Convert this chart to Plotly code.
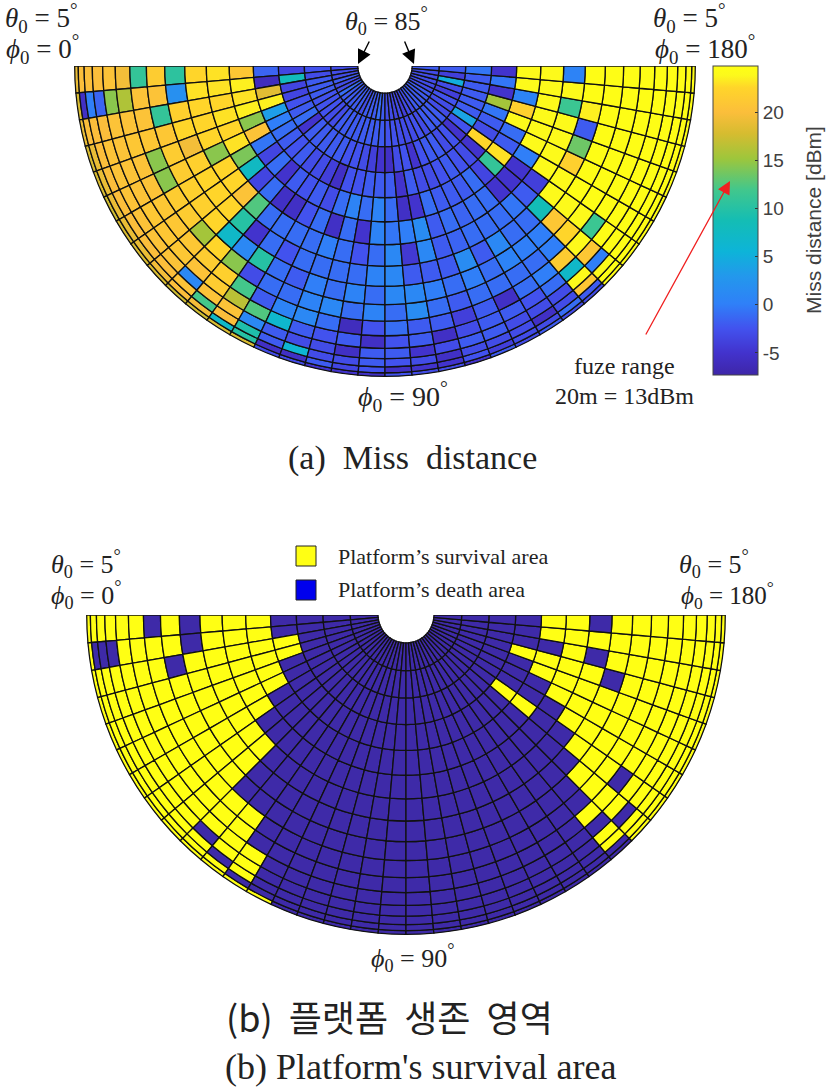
"""
Miss distance and platform survival maps drawn as half polar cell plots.
"""

import numpy as np
import plotly.graph_objects as go

WIDTH = 827
HEIGHT = 1087

theta0_edges = list(range(5, 90, 5))
phi_step = 5
fuze_range_dbm = 13

# one row per phi wedge, 16 cells from theta0 = 5 (rim) to theta0 = 85 (hole)
miss_left = [
    [19, 20, 20, 20, 20.5, 19.5, 11, 21.5, 10.5, 22.5, 23, 21, -1.5, -3.5, -2.5, -3],
    [18, -5.5, 0, -1.5, 14.5, 16, 20.5, 20.5, 2, 23, 23, 23.5, -6, 8, -3, -3],
    [19, 20, 20, 20, 20.5, 20.5, 20.5, 11, 22, 22.5, 22.5, 23, 18.5, -3.5, -2, -3],
    [18, 19, 20, 20.5, 20.5, 21, 21, 21, 22.5, 22.5, 23, 23.5, 23.5, -3.5, -2, -2],
    [18, 19, 20, 20.5, 20.5, 20.5, 14.5, 21.5, 19.5, 22.5, 22.5, 14.5, 3.5, -2.5, -2, -3],
    [17.5, 19, 20, 20.5, 20.5, 20.5, 14.5, 21.5, 22, 14.5, 23, 20.5, 0, -2, -2.5, -3],
    [18, 19, 20, 20.5, 21, 21, 21.5, 22, 22.5, 22.5, 14, -0.5, -1, -1, -2.5, -1],
    [18, 19, 20, 20.5, 21, 21, 21.5, 22, 22.5, 22.5, 7.5, -3.5, -2, -5, -2.5, -2],
    [18, 19.5, 20, 20.5, 21, 21, 15.5, 22.5, 22.5, 20.5, -3.5, -1, -2.5, -2, -3, -2],
    [17.5, 20, 20.5, 1, 20.5, 21.5, 22.5, 7, 10, 12.5, -1, -5, -2, -2, -3, -2],
    [17.5, 19.5, 12, 20.5, 21.5, 22, 14.5, 1, -5, -1, -5.5, -2, -3, -2, -2, -2],
    [18, 7, 20, 20.5, 16.5, 12, -3, 10, -1, -1, -5.5, -2.5, -3, -2, -2, -2],
    [18, 10, 9.5, 1, 12.5, -2, -1, -1, -2.5, -1, -2.5, -2, -4, -2, -2, -3],
    [-3, -5.5, -2, -2, 6.5, 0.5, -1, -2, -1, -1, -1, -3, -5.5, -2.5, -2, -2],
    [-3, -5.5, 6, -3, -2, 1, 0.5, 0, -1, 0, -5.5, -1, -2.5, -2.5, -2, -2],
    [-5, -2, -3, -3, -2.5, -1, 1, -1, -1, -1, -1, 0.5, -2.5, -3, -2, -2],
    [-5, -3.5, -3, -5.5, -2, -6, -1, 0.5, -1, -2.5, -5, -1, -2, -4, -2, -1],
    [-5.5, -2.5, -2, -2, -5.5, -2.5, 0.5, -1, 0.5, -1, 0.5, 0.5, -2, -5, -2, -2],
]

# same cells on the other side, listed from phi0 = 180 back to phi0 = 90
miss_right = [
    [24.5, 24.5, 24.5, 24.5, 24.5, 24.5, 24.5, 24.5, 24.5, 0.5, 24, 24, -5, -0.5, -2, -2],
    [24.5, 24.5, 24.5, 24.5, 24.5, 24.5, 24.5, 24.5, 24.5, 24, 24, 24, -0.5, -2, -4, -3],
    [24.5, 24.5, 24.5, 24.5, 24.5, 24.5, 24.5, 24.5, 23.5, 11.5, 24, 0.5, -5, -2, 5, -3],
    [24.5, 24.5, 24.5, 24.5, 24.5, 24.5, 24.5, 24.5, -2, 24, 24, 22, 15.5, -2, -3, -3],
    [24.5, 24.5, 24.5, 24.5, 24.5, 24.5, 24.5, 24.5, 13.5, 24, 24, 24, -0.5, -2, -4, -3],
    [24.5, 24.5, 24.5, 24.5, 24.5, 24.5, 24.5, 24.5, 22, 24, 24, -1, -2, -2, -2.5, -3],
    [24.5, 24.5, 24.5, 24.5, 24.5, 24.5, 24.5, 24.5, 24, 24, 0, -2, -3, 4, -3, -2],
    [24.5, 24.5, 24.5, 24.5, 24.5, 11.5, 24, 24, 24, -4, -5, 23, 22.5, -2.5, -3, -2],
    [24.5, 24.5, 24, 0, 21, 24, 22.5, 21, 8.5, -2, -5, 11, -5, -5, -2, -2],
    [-3, -2, 21, 24, 7, 21.5, 0, 0, -1, -0.5, -5, -3.5, -3, -2.5, -2, -2],
    [-3, -1, -3, -3, -1, 0, -1, 0, -1, -1, -1, -1, -2.5, -3, -2, -2],
    [-2, -3, -5.5, -3, -2.5, -1, -1, 0.5, 1, -1, -1, -2, -2, -2, -3, -3],
    [-3, -3, -3, -3, -2, -5.5, -1, -1, -2, -1, -1.5, -2, -2.5, -2, -2.5, -3],
    [-2, -4, -3, -2, -2, -2, -1, 0, 1.5, -1.5, -1, -2, -3, -2.5, -3, -4],
    [-5, -2.5, -3, -2, -3, -4, -2, -1, -2, -2, -2, -1, -3, -5, -3, -3],
    [-3, -5, -5.5, -3, -5.5, -2, -1, 0, -2, 1, 1.5, -5, -2, -2.5, -3, -3.5],
    [-3, -5, -3, -5, -2, -2, 1.5, 1, -2, -4.5, 0, -5.5, -5, -3, -2.5, -3],
    [-2.5, -5.5, -2.5, -2, -2.5, -1, -1, 1, 1, 1, -0.5, -1, -2, -5.5, -2.5, -3],
]

colorbar_ticks = [-5, 0, 5, 10, 15, 20]
colorbar_labels = ["-5", "0", "5", "10", "15", "20"]
color_min = -7.3
color_max = 24.8

miss_scale = [
    [0.0, "#3E26A8"],
    [0.07, "#4232CC"],
    [0.15, "#4252EE"],
    [0.23, "#2F80F8"],
    [0.32, "#2398EC"],
    [0.40, "#0DB4D8"],
    [0.50, "#14BDB4"],
    [0.60, "#42C78C"],
    [0.70, "#9DC63C"],
    [0.78, "#D5BC30"],
    [0.85, "#FBBE3B"],
    [0.93, "#FFD52A"],
    [0.97, "#FCF91C"],
    [1.0, "#FFFF14"],
]
survival_scale = [[0, "#3E2AA8"], [1, "#FFFF14"]]


def px_x(x):
    """Pixel column to paper fraction."""
    return x / WIDTH


def px_y(y):
    """Pixel row to paper fraction."""
    return 1 - y / HEIGHT


def build_cells():
    """Flattens the wedge rows into centre angle, ring base, ring height, value."""
    rows = miss_left + miss_right[::-1]
    edges = np.cos(np.radians(theta0_edges))
    angle, base, height, value = [], [], [], []
    for i, row in enumerate(rows):
        for j, cell in enumerate(row):
            angle.append(i * phi_step + phi_step / 2)
            base.append(edges[j + 1])
            height.append(edges[j] - edges[j + 1])
            value.append(cell)
    return angle, base, height, np.array(value)


def polar_layout(center_x, top, radius):
    """Half disc subplot placed by its pixel centre and radius."""
    return {
        "domain": {
            "x": [px_x(center_x - radius), px_x(center_x + radius)],
            "y": [px_y(top + radius), px_y(top)],
        },
        "sector": [180, 360],
        "bgcolor": "white",
        "radialaxis": {"visible": False, "range": [0, 1]},
        "angularaxis": {
            "visible": False,
            "rotation": 180,
            "direction": "counterclockwise",
        },
    }


def label(x, y, text, size, family="Liberation Serif", color="#222222", angle=0):
    """Free text placed by pixel centre."""
    return {
        "x": px_x(x),
        "y": px_y(y),
        "xref": "paper",
        "yref": "paper",
        "text": text,
        "showarrow": False,
        "xanchor": "center",
        "yanchor": "middle",
        "textangle": angle,
        "font": {"family": family, "size": size, "color": color},
    }


def arrow(x0, y0, x1, y1, color, width, head):
    """Arrow between two pixel positions."""
    return {
        "x": px_x(x1),
        "y": px_y(y1),
        "ax": x0 - x1,
        "ay": y0 - y1,
        "xref": "paper",
        "yref": "paper",
        "axref": "pixel",
        "ayref": "pixel",
        "text": "",
        "showarrow": True,
        "arrowhead": 2,
        "arrowsize": head,
        "arrowwidth": width,
        "arrowcolor": color,
    }


def legend_box(top, color):
    """Small legend square placed by its top pixel row."""
    return {
        "type": "rect",
        "xref": "paper",
        "yref": "paper",
        "x0": px_x(296),
        "x1": px_x(316),
        "y0": px_y(top + 20),
        "y1": px_y(top),
        "fillcolor": color,
        "line": {"color": "#222222", "width": 1},
    }


def main():
    """Builds both panels and writes the page."""
    angle, base, height, value = build_cells()

    miss_trace = go.Barpolar(
        theta=angle,
        r=height,
        base=base,
        width=phi_step,
        subplot="polar",
        marker={
            "color": value,
            "colorscale": miss_scale,
            "cmin": color_min,
            "cmax": color_max,
            "line": {"color": "#111111", "width": 1.3},
            "colorbar": {
                "x": px_x(713),
                "xanchor": "left",
                "xpad": 0,
                "y": px_y(375),
                "yanchor": "bottom",
                "ypad": 0,
                "len": 309,
                "lenmode": "pixels",
                "thickness": 45,
                "outlinecolor": "#444444",
                "outlinewidth": 1,
                "tickvals": colorbar_ticks,
                "ticktext": colorbar_labels,
                "ticks": "inside",
                "ticklen": 3,
                "tickcolor": "#333333",
                "tickfont": {
                    "family": "Liberation Sans",
                    "size": 19,
                    "color": "#404040",
                },
            },
        },
    )
    survival_trace = go.Barpolar(
        theta=angle,
        r=height,
        base=base,
        width=phi_step,
        subplot="polar2",
        marker={
            "color": (value > fuze_range_dbm).astype(int),
            "colorscale": survival_scale,
            "cmin": 0,
            "cmax": 1,
            "showscale": False,
            "line": {"color": "#111111", "width": 1.3},
        },
    )

    theta_5 = "<i>θ</i><sub>0</sub> = 5<sup>°</sup>"
    phi_0 = "<i>ϕ</i><sub>0</sub> = 0<sup>°</sup>"
    phi_180 = "<i>ϕ</i><sub>0</sub> = 180<sup>°</sup>"
    phi_90 = "<i>ϕ</i><sub>0</sub> = 90<sup>°</sup>"
    annotations = [
        label(41, 18, theta_5, 27),
        label(42, 49, phi_0, 27),
        label(386, 21, "<i>θ</i><sub>0</sub> = 85<sup>°</sup>", 26),
        label(689, 18, theta_5, 27),
        label(705, 49, phi_180, 27),
        label(403, 397, phi_90, 28),
        label(624, 366, "fuze range", 24),
        label(624, 396, "20m = 13dBm", 24),
        label(412, 458, "(a)  Miss  distance", 34),
        label(86, 564, theta_5, 26),
        label(86, 595, phi_0, 26),
        label(714, 564, theta_5, 26),
        label(727, 595, phi_180, 25),
        label(413, 958, phi_90, 26),
        label(443, 556, "Platform’s survival area", 22),
        label(431, 589, "Platform’s death area", 22),
        label(389, 1016, "(b)  플랫폼  생존  영역", 36, "Noto Sans CJK KR"),
        label(420, 1067, "(b) Platform's survival area", 36),
        label(814, 220, "Miss distance [dBm]", 21, "Liberation Sans", "#404040", -90),
        arrow(370, 40, 358, 64, "black", 1.4, 2),
        arrow(404, 40, 414, 64, "black", 1.4, 2),
        arrow(645, 336, 730, 181, "#f02020", 1.3, 2),
    ]
    shapes = [legend_box(546, "#FFFF14"), legend_box(580, "#0000EE")]

    fig = go.Figure(data=[miss_trace, survival_trace])
    fig.update_layout(
        width=WIDTH,
        height=HEIGHT,
        margin={"l": 0, "r": 0, "t": 0, "b": 0},
        paper_bgcolor="white",
        showlegend=False,
        polar=polar_layout(385, 66, 311.5),
        polar2=polar_layout(406, 615, 320.5),
        annotations=annotations,
        shapes=shapes,
    )
    # page body margin would shift everything by 8px
    fig.write_html(
        "out.html",
        config={"displayModeBar": False},
        post_script="document.body.style.margin = '0';",
    )


if __name__ == "__main__":
    main()
